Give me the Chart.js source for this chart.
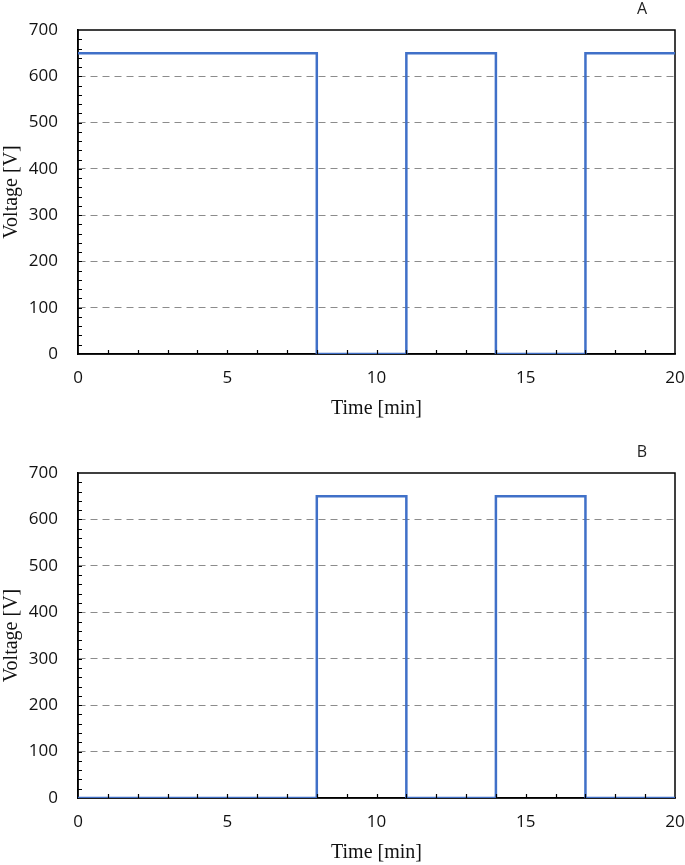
<!DOCTYPE html>
<html>
<head>
<meta charset="utf-8">
<script src="https://cdn.jsdelivr.net/npm/chart.js@4.4.1/dist/chart.umd.min.js"></script>
<style>
  html, body { margin: 0; padding: 0; background: #fff; }
  .panel { position: absolute; left: 0; width: 685px; }
  #panelA { top: 0; height: 430px; }
  #panelB { top: 430px; height: 435px; }
</style>
</head>
<body>
<div class="panel" id="panelA"><canvas id="chartA"></canvas></div>
<div class="panel" id="panelB"><canvas id="chartB"></canvas></div>
<script>
// switching instants [min] and the voltage held from each instant on
const switchTimes = [0, 8, 11, 14, 17, 20];
const voltageA = [650, 0, 650, 0, 650, 650];
const voltageB = [0, 650, 0, 650, 0, 0];
const xTicks = [0, 5, 10, 15, 20];
const yTicks = [0, 100, 200, 300, 400, 500, 600, 700];

const LINE = '#4070c8';
const TICK_FONT = { family: '"Open Sans", "Noto Sans", sans-serif', size: 17 };
const TITLE_FONT = { family: '"Liberation Serif", "Times New Roman", serif', size: 20 };

// box around the plot + short inward ticks, like the spreadsheet export
const framePlugin = {
    id: 'frame',
    beforeDatasetsDraw(chart) {
        const a = chart.chartArea, ctx = chart.ctx;
        ctx.save();
        ctx.strokeStyle = '#000';
        ctx.lineWidth = 1.5;
        ctx.strokeRect(a.left, a.top, a.right - a.left, a.bottom - a.top);
        ctx.restore();
    },
    afterDatasetsDraw(chart, args, opts) {
        const a = chart.chartArea, ctx = chart.ctx;
        const xs = chart.scales.x, ys = chart.scales.y;
        ctx.save();
        ctx.strokeStyle = '#000';
        ctx.lineWidth = 1.2;
        ctx.beginPath();
        for (let v = xs.min + opts.xMinor; v < xs.max; v += opts.xMinor) {
            const px = Math.round(xs.getPixelForValue(v)) + 0.5;
            ctx.moveTo(px, a.bottom);
            ctx.lineTo(px, a.bottom - 4);
        }
        for (let v = ys.min + opts.yMinor; v < ys.max; v += opts.yMinor) {
            const py = Math.round(ys.getPixelForValue(v)) + 0.5;
            ctx.moveTo(a.left, py);
            ctx.lineTo(a.left + 4, py);
        }
        ctx.stroke();
        // panel letter
        ctx.fillStyle = '#222';
        ctx.font = '16px "Open Sans", sans-serif';
        ctx.textAlign = 'center';
        ctx.textBaseline = 'middle';
        ctx.fillText(opts.label, a.right - 33, a.top - 21);
        ctx.restore();
    }
};

function makeChart(id, values, label, top, bottom) {
    return new Chart(document.getElementById(id), {
        type: 'line',
        data: {
            datasets: [{
                data: switchTimes.map((t, i) => ({ x: t, y: values[i] })),
                stepped: 'before',
                borderColor: LINE,
                borderWidth: 2.5,
                pointRadius: 0,
                fill: false
            }]
        },
        options: {
            responsive: true,
            maintainAspectRatio: false,
            animation: false,
            layout: { padding: { left: 0, right: 10, top: top, bottom: bottom } },
            plugins: {
                legend: { display: false },
                tooltip: { enabled: false },
                frame: { label: label, xMinor: 1, yMinor: 20 }
            },
            scales: {
                x: {
                    type: 'linear',
                    min: 0, max: 20,
                    afterBuildTicks: s => { s.ticks = xTicks.map(v => ({ value: v })); },
                    afterFit: s => { s.height = 67; s.paddingLeft = 0; s.paddingRight = 0; },
                    grid: { display: false, drawTicks: false },
                    border: { color: '#000', width: 1.5 },
                    ticks: { color: '#111', font: TICK_FONT, padding: 14, maxRotation: 0 },
                    title: { display: true, text: 'Time [min]', color: '#111', font: TITLE_FONT, padding: { top: -2, bottom: 0 } }
                },
                y: {
                    min: 0, max: 700,
                    afterBuildTicks: s => { s.ticks = yTicks.map(v => ({ value: v })); },
                    afterFit: s => { s.width = 78; s.paddingTop = 0; s.paddingBottom = 0; },
                    grid: {
                        drawTicks: false,
                        color: c => (c.tick && (c.tick.value === 0 || c.tick.value === 700)) ? 'rgba(0,0,0,0)' : '#8c8c8c',
                        lineWidth: 1
                    },
                    border: { color: '#000', width: 1.5, dash: [7, 5] },
                    ticks: { color: '#111', font: TICK_FONT, padding: 20 },
                    title: { display: true, text: 'Voltage [V]', color: '#111', font: TITLE_FONT, padding: { top: 0, bottom: 0 } }
                }
            }
        },
        plugins: [framePlugin]
    });
}

makeChart('chartA', voltageA, 'A', 30, 9);
makeChart('chartB', voltageB, 'B', 43, 0);
</script>
</body>
</html>
